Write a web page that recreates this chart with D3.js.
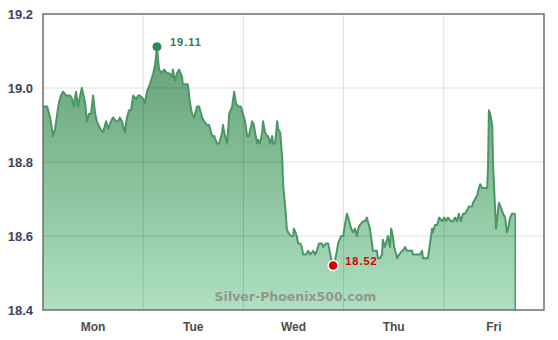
<!DOCTYPE html>
<html>
<head>
<meta charset="utf-8">
<script src="https://cdn.jsdelivr.net/npm/d3@7"></script>
<style>
  body { margin: 0; background: #fff; }
  svg { display: block; }
  .ylab { font: bold 13px "Liberation Sans", Arial, sans-serif; fill: #3d4266; }
  .xlab { font: bold 12px "Liberation Sans", Arial, sans-serif; fill: #4d4d4d; }
  .mark { font: bold 11px "Liberation Sans", Arial, sans-serif; letter-spacing: 1px; }
  .wm { font: bold 12.5px "DejaVu Sans", Verdana, sans-serif; fill: #8c8c8c; opacity: 0.85; }
</style>
</head>
<body>
<div id="chart"></div>
<script>
// hours since Monday 00:00
var hours = [0, 1.0, 1.7, 2.4, 2.9, 3.4, 3.8, 4.3, 4.8, 5.5, 6.0, 6.5, 7.0, 7.4, 7.9, 8.4, 8.9, 9.3, 10.1, 10.5,
  11.0, 11.5, 12.0, 12.5, 12.9, 13.7, 14.4, 15.1, 15.6, 16.3, 16.8, 17.5, 18.0, 18.4, 18.9, 19.6, 20.1, 20.6, 21.1, 21.6,
  22.3, 22.8, 23.2, 24.0, 24.4, 24.9, 25.6, 26.4, 26.8, 27.1, 27.3, 27.8, 28.5, 29.0, 29.7, 30.2, 30.9, 31.1, 31.6, 32.1,
  32.6, 33.3, 33.5, 34.3, 34.7, 35.2, 35.7, 36.2, 36.9, 37.4, 38.1, 38.6, 39.3, 39.8, 40.5, 41.0, 41.7, 42.2, 42.9, 43.1,
  43.6, 44.1, 44.6, 45.3, 45.8, 46.2, 46.7, 47.4, 47.9, 48.4, 48.9, 49.3, 50.1, 50.5, 50.8, 51.3, 51.5, 52.0, 52.5, 52.7,
  53.2, 53.7, 53.9, 54.4, 54.9, 55.1, 55.6, 56.1, 56.3, 56.8, 57.3, 57.5, 58.0, 58.4, 58.7, 59.4, 59.9, 60.1, 60.8, 61.1,
  61.6, 62.0, 62.3, 63.0, 63.5, 64.0, 64.7, 65.2, 65.6, 66.1, 66.8, 67.1, 67.8, 68.3, 69.0, 69.5, 69.9, 70.4, 70.7, 71.4,
  71.9, 72.3, 72.8, 73.1, 73.8, 74.3, 74.7, 75.2, 75.5, 75.9, 76.7, 77.1, 77.6, 77.8, 78.3, 78.8, 79.0, 79.5, 80.0, 80.2,
  80.7, 81.2, 81.4, 81.9, 82.4, 82.6, 83.1, 83.4, 83.8, 84.1, 84.6, 84.8, 85.3, 86.0, 86.2, 86.7, 87.2, 87.9, 88.4, 88.6,
  89.6, 90.3, 90.8, 91.0, 91.7, 92.2, 92.7, 93.2, 93.4, 93.9, 94.4, 94.9, 95.6, 96.1, 96.5, 97.0, 97.7, 98.2, 98.7, 99.2,
  99.6, 100.1, 100.6, 101.1, 101.6, 102.0, 102.8, 103.0, 103.5, 104.0, 104.2, 104.7, 105.2, 105.4, 106.4, 106.6, 106.8, 107.1, 107.6, 107.8,
  108.3, 108.5, 108.8, 109.2, 109.9, 110.2, 110.7, 111.1, 111.4, 111.9, 112.3, 113.1]

var silver = [18.95, 18.95, 18.92, 18.87, 18.89, 18.93, 18.96, 18.98, 18.99, 18.98, 18.98, 18.98, 18.97, 18.95, 18.99, 18.95, 18.98, 19.00, 18.96, 18.91,
  18.93, 18.93, 18.98, 18.93, 18.91, 18.89, 18.88, 18.91, 18.89, 18.91, 18.92, 18.91, 18.91, 18.92, 18.91, 18.88, 18.92, 18.94, 18.94, 18.98,
  18.97, 18.98, 18.98, 18.97, 18.96, 18.99, 19.01, 19.04, 19.06, 19.09, 19.11, 19.05, 19.04, 19.05, 19.04, 19.04, 19.03, 19.05, 19.02, 19.04,
  19.05, 19.03, 19.01, 19.01, 19.01, 18.96, 18.93, 18.92, 18.95, 18.95, 18.92, 18.91, 18.90, 18.90, 18.87, 18.87, 18.85, 18.85, 18.88, 18.90,
  18.87, 18.85, 18.93, 18.95, 18.99, 18.96, 18.95, 18.95, 18.93, 18.91, 18.87, 18.87, 18.91, 18.90, 18.88, 18.85, 18.86, 18.85, 18.88, 18.91,
  18.88, 18.87, 18.87, 18.85, 18.87, 18.85, 18.85, 18.91, 18.89, 18.88, 18.81, 18.74, 18.68, 18.62, 18.61, 18.60, 18.60, 18.62, 18.60, 18.58,
  18.58, 18.57, 18.55, 18.55, 18.56, 18.55, 18.56, 18.55, 18.56, 18.58, 18.58, 18.57, 18.58, 18.58, 18.54, 18.52, 18.53, 18.56, 18.58, 18.60,
  18.60, 18.63, 18.66, 18.65, 18.62, 18.61, 18.62, 18.60, 18.62, 18.63, 18.64, 18.64, 18.65, 18.64, 18.62, 18.58, 18.56, 18.56, 18.56, 18.54,
  18.54, 18.55, 18.59, 18.57, 18.59, 18.60, 18.57, 18.62, 18.60, 18.57, 18.55, 18.54, 18.55, 18.56, 18.56, 18.57, 18.56, 18.56, 18.56, 18.55,
  18.55, 18.55, 18.56, 18.54, 18.54, 18.54, 18.58, 18.62, 18.61, 18.63, 18.63, 18.65, 18.64, 18.65, 18.64, 18.65, 18.64, 18.64, 18.65, 18.64,
  18.66, 18.64, 18.66, 18.66, 18.67, 18.68, 18.68, 18.69, 18.70, 18.71, 18.72, 18.74, 18.73, 18.73, 18.73, 18.79, 18.94, 18.93, 18.90, 18.79,
  18.67, 18.62, 18.65, 18.69, 18.67, 18.66, 18.65, 18.61, 18.62, 18.65, 18.66, 18.66]

var days = ['Mon', 'Tue', 'Wed', 'Thu', 'Fri']
var yTicks = [18.4, 18.6, 18.8, 19.0, 19.2]
var watermark = 'Silver-Phoenix500.com'

var data = hours.map(function(h, i){ return {h: h, v: silver[i]} })

var W = 558, H = 340
var margin = {left: 43, right: 14, top: 14, bottom: 30}
var width = W - margin.left - margin.right
var height = H - margin.top - margin.bottom

var svg = d3.select('#chart').append('svg').attr('width', W).attr('height', H)
var g = svg.append('g').attr('transform', 'translate(' + margin.left + ',' + margin.top + ')')

var x = d3.scaleLinear().domain([0, 24 * days.length]).range([0, width])
var y = d3.scaleLinear().domain([18.4, 19.2]).range([height, 0])

// gradient for the area
var grad = svg.append('defs').append('linearGradient')
  .attr('id', 'fill').attr('gradientUnits', 'userSpaceOnUse')
  .attr('x1', 0).attr('y1', 0).attr('x2', 0).attr('y2', height)
grad.append('stop').attr('offset', '0%').attr('stop-color', '#5a9a6d')
grad.append('stop').attr('offset', '100%').attr('stop-color', '#afe0c0')

//////////
// AREA //
//////////

var area = d3.area().x(function(d){ return x(d.h) }).y0(height).y1(function(d){ return y(d.v) })
var line = d3.line().x(function(d){ return x(d.h) }).y(function(d){ return y(d.v) })

g.append('path').attr('d', area(data)).attr('fill', 'url(#fill)')

// grid over the area
var gridH = yTicks.slice(1, -1)
g.selectAll('line.gh').data(gridH).enter().append('line')
  .attr('x1', 0).attr('x2', width)
  .attr('y1', function(d){ return y(d) }).attr('y2', function(d){ return y(d) })
  .attr('stroke', '#000').attr('stroke-opacity', 0.13)

var gridV = d3.range(1, days.length).map(function(i){ return i * 24 })
g.selectAll('line.gv').data(gridV).enter().append('line')
  .attr('y1', 0).attr('y2', height)
  .attr('x1', function(d){ return x(d) }).attr('x2', function(d){ return x(d) })
  .attr('stroke', '#000').attr('stroke-opacity', 0.13)

g.append('path').attr('d', line(data))
  .attr('fill', 'none').attr('stroke', '#4a9665').attr('stroke-width', 2)
  .attr('stroke-linejoin', 'round')

var last = data[data.length - 1]
g.append('line')
  .attr('x1', x(last.h)).attr('x2', x(last.h))
  .attr('y1', y(last.v)).attr('y2', height)
  .attr('stroke', '#4a9665').attr('stroke-width', 1.5)

// border
g.append('rect').attr('width', width).attr('height', height)
  .attr('fill', 'none').attr('stroke', '#6e6e6e').attr('stroke-width', 1.5)

////////////
// LABELS //
////////////

g.selectAll('text.ylab').data(yTicks).enter().append('text')
  .attr('class', 'ylab')
  .attr('x', -10).attr('y', function(d){ return y(d) })
  .attr('dy', '0.36em').attr('text-anchor', 'end')
  .text(d3.format('.1f'))

g.selectAll('text.xlab').data(days).enter().append('text')
  .attr('class', 'xlab')
  .attr('x', function(d, i){ return x(i * 24 + 12) })
  .attr('y', height + 21)
  .attr('text-anchor', 'middle')
  .text(function(d){ return d })

g.append('text').attr('class', 'wm')
  .attr('x', width / 2 + 2).attr('y', height - 9)
  .attr('text-anchor', 'middle')
  .text(watermark)

// high / low markers
var hi = data[d3.maxIndex(data, function(d){ return d.v })]
var lo = data[d3.minIndex(data, function(d){ return d.v })]

g.append('circle').attr('cx', x(hi.h)).attr('cy', y(hi.v) - 0.5).attr('r', 4.5)
  .attr('fill', '#2e8a57')
g.append('text').attr('class', 'mark')
  .attr('x', x(hi.h) + 13).attr('y', y(hi.v) - 1)
  .attr('fill', '#2e7d4f')
  .text(hi.v.toFixed(2))

g.append('circle').attr('cx', x(lo.h)).attr('cy', y(lo.v)).attr('r', 5)
  .attr('fill', '#d40000').attr('stroke', '#fff').attr('stroke-width', 1.5)
g.append('text').attr('class', 'mark')
  .attr('x', x(lo.h) + 12).attr('y', y(lo.v) - 1)
  .attr('fill', '#d40000')
  .text(lo.v.toFixed(2))
</script>
</body>
</html>
